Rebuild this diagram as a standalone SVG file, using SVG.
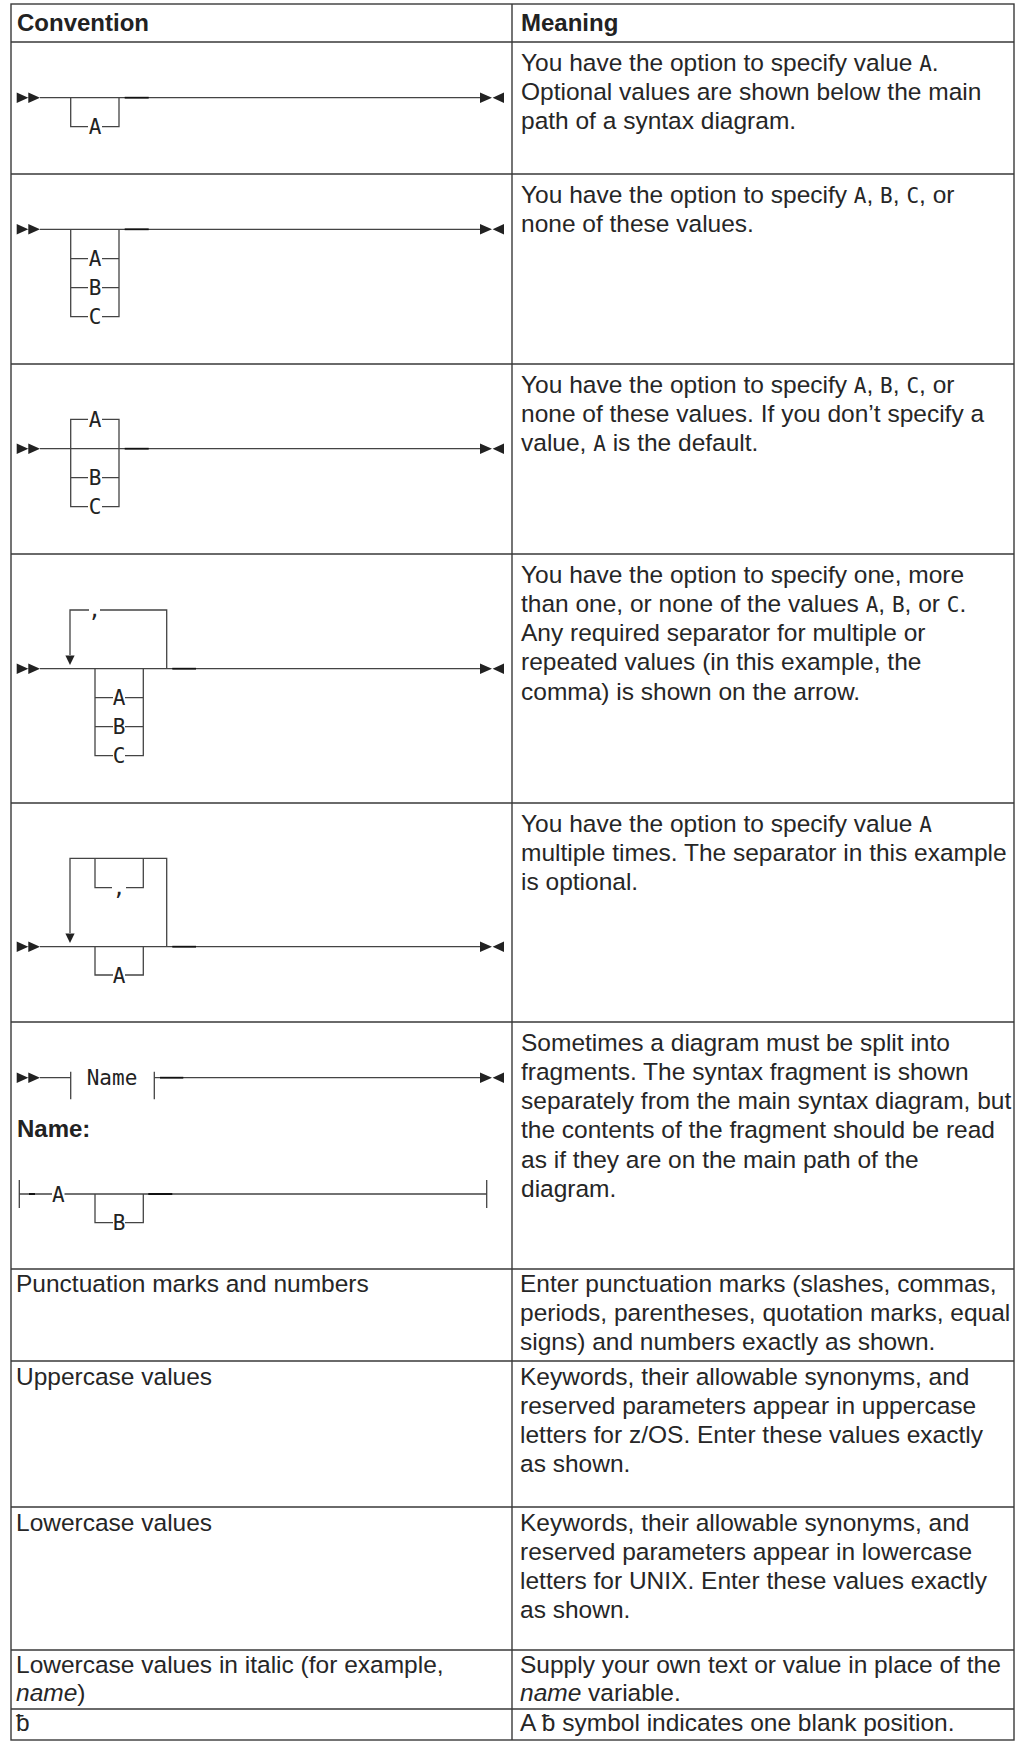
<svg xmlns="http://www.w3.org/2000/svg" xmlns:xlink="http://www.w3.org/1999/xlink" width="1021" height="1742" viewBox="0 0 1021 1742">
  <style>
    .grid{stroke:#3a3a3a;stroke-width:1.4;fill:none}
    .rail{stroke:#444;stroke-width:1.3;fill:none}
    .heavy{stroke:#111;stroke-width:1.8;fill:none}
    .tip{fill:#222}
    .hd{font-family:"Liberation Sans",Arial,sans-serif;font-weight:bold;font-size:24px;fill:#222}
    .tx{font-family:"Liberation Sans",Arial,sans-serif;font-size:24.5px;fill:#262626}
    .mono{font-family:"DejaVu Sans Mono","Liberation Mono",monospace;font-size:21px}
    .kw{font-family:"DejaVu Sans Mono","Liberation Mono",monospace;font-size:21px;fill:#222;text-anchor:middle}
    .it{font-style:italic}
  </style>
  <defs>
    <!-- double start arrow and end stop of a syntax rail -->
    <path id="start" class="tip" d="M16.7,-5.2 L28.3,0 L16.7,5.2 Z M28.3,-5.2 L40,0 L28.3,5.2 Z"/>
    <path id="end" class="tip" d="M480,-5.2 L492,0 L480,5.2 Z M504,-5.2 L492.6,0 L504,5.2 Z"/>
    <!-- downward arrowhead on a repeat loop -->
    <path id="down" class="tip" d="M-4.6,-9.5 L4.6,-9.5 L0,0 Z"/>
  </defs>

  <rect width="1021" height="1742" fill="#fff"/>

  <!-- table grid -->
  <g id="table" class="grid">
    <rect x="11" y="4" width="1003" height="1736"/>
    <path d="M512,4 V1740"/>
    <path d="M11,42 H1014 M11,174 H1014 M11,364 H1014 M11,554 H1014 M11,803 H1014 M11,1022 H1014 M11,1269 H1014 M11,1361 H1014 M11,1507 H1014 M11,1650 H1014 M11,1709 H1014"/>
  </g>

  <!-- header -->
  <g id="header">
    <text class="hd" x="17" y="31">Convention</text>
    <text class="hd" x="521" y="31">Meaning</text>
  </g>

  <!-- syntax rails -->
  <g id="connectors">
    <!-- optional A -->
    <path class="rail" d="M40,97.7 H480 M70.7,97.7 V126.7 H88 M102,126.7 H119 V97.7"/>
    <path class="heavy" d="M124.7,97.7 H148.7"/>
    <!-- optional A, B, C -->
    <path class="rail" d="M40,229.3 H480 M70.7,229.3 V316.7 H88 M102,316.7 H119 V229.3 M70.7,258.7 H88 M102,258.7 H119 M70.7,287.7 H88 M102,287.7 H119"/>
    <path class="heavy" d="M124.7,229.3 H148.7"/>
    <!-- default A -->
    <path class="rail" d="M40,448.7 H480 M88,419.3 H70.7 V506.7 H88 M102,506.7 H119 V419.3 H102 M70.7,477.7 H88 M102,477.7 H119"/>
    <path class="heavy" d="M124.7,448.7 H148.7"/>
    <!-- repeat with comma -->
    <path class="rail" d="M40,668.7 H480 M70,655 V610 H89 M100,610 H166.7 V668.7 M95,668.7 V755.7 H113 M125,755.7 H143.3 V668.7 M95,697.7 H113 M125,697.7 H143.3 M95,726.7 H113 M125,726.7 H143.3"/>
    <path class="heavy" d="M172.3,668.7 H196"/>
    <!-- repeat with optional comma -->
    <path class="rail" d="M40,946.7 H480 M70,933 V858.3 H166.7 V946.7 M95,858.3 V887.7 H112 M126,887.7 H143.3 V858.3 M95,946.7 V975 H113 M125,975 H143.3 V946.7"/>
    <path class="heavy" d="M172.3,946.7 H196"/>
    <!-- fragment reference -->
    <path class="rail" d="M40,1077.7 H70.7 M70.7,1071.7 V1099.3 M154.3,1071.7 V1099.3 M154.3,1077.7 H480"/>
    <path class="heavy" d="M160,1077.7 H183.3"/>
    <!-- fragment body -->
    <path class="rail" d="M19.3,1180 V1208 M19.3,1194 H52 M64.5,1194 H486.7 M486.7,1180 V1208 M95,1194 V1222.7 H113 M125,1222.7 H143.3 V1194"/>
    <path class="heavy" d="M29,1194 H35 M148.3,1194 H172.3"/>

    <use xlink:href="#start" href="#start" y="97.7"/>
    <use xlink:href="#end" href="#end" y="97.7"/>
    <use xlink:href="#start" href="#start" y="229.3"/>
    <use xlink:href="#end" href="#end" y="229.3"/>
    <use xlink:href="#start" href="#start" y="448.7"/>
    <use xlink:href="#end" href="#end" y="448.7"/>
    <use xlink:href="#start" href="#start" y="668.7"/>
    <use xlink:href="#end" href="#end" y="668.7"/>
    <use xlink:href="#down" href="#down" x="70" y="665"/>
    <use xlink:href="#start" href="#start" y="946.7"/>
    <use xlink:href="#end" href="#end" y="946.7"/>
    <use xlink:href="#down" href="#down" x="70" y="943"/>
    <use xlink:href="#start" href="#start" y="1077.7"/>
    <use xlink:href="#end" href="#end" y="1077.7"/>
  </g>

  <!-- rail keywords -->
  <g id="kw-row1"><text class="kw" x="95" y="134.2">A</text></g>
  <g id="kw-row2">
    <text class="kw" x="95" y="266.2">A</text>
    <text class="kw" x="95" y="295.2">B</text>
    <text class="kw" x="95" y="324.2">C</text>
  </g>
  <g id="kw-row3">
    <text class="kw" x="95" y="426.8">A</text>
    <text class="kw" x="95" y="485.2">B</text>
    <text class="kw" x="95" y="514.2">C</text>
  </g>
  <g id="kw-row4">
    <text class="kw" x="94.5" y="617">,</text>
    <text class="kw" x="119" y="705.2">A</text>
    <text class="kw" x="119" y="734.2">B</text>
    <text class="kw" x="119" y="763.2">C</text>
  </g>
  <g id="kw-row5">
    <text class="kw" x="119" y="894.7">,</text>
    <text class="kw" x="119" y="982.5">A</text>
  </g>
  <g id="kw-row6">
    <text class="kw" x="112" y="1085.2">Name</text>
    <text class="hd" x="17" y="1137">Name:</text>
    <text class="kw" x="58.3" y="1201.5">A</text>
    <text class="kw" x="119" y="1230.2">B</text>
  </g>

  <!-- meaning column -->
  <g id="m1" class="tx">
    <text x="521" y="70.5">You have the option to specify value <tspan class="mono">A</tspan>.</text>
    <text x="521" y="99.8">Optional values are shown below the main</text>
    <text x="521" y="129.1">path of a syntax diagram.</text>
  </g>
  <g id="m2" class="tx">
    <text x="521" y="202.5">You have the option to specify <tspan class="mono">A</tspan>, <tspan class="mono">B</tspan>, <tspan class="mono">C</tspan>, or</text>
    <text x="521" y="231.8">none of these values.</text>
  </g>
  <g id="m3" class="tx">
    <text x="521" y="392.5">You have the option to specify <tspan class="mono">A</tspan>, <tspan class="mono">B</tspan>, <tspan class="mono">C</tspan>, or</text>
    <text x="521" y="421.8">none of these values. If you don’t specify a</text>
    <text x="521" y="451.1">value, <tspan class="mono">A</tspan> is the default.</text>
  </g>
  <g id="m4" class="tx">
    <text x="521" y="582.5">You have the option to specify one, more</text>
    <text x="521" y="611.8">than one, or none of the values <tspan class="mono">A</tspan>, <tspan class="mono">B</tspan>, or <tspan class="mono">C</tspan>.</text>
    <text x="521" y="641.1">Any required separator for multiple or</text>
    <text x="521" y="670.4">repeated values (in this example, the</text>
    <text x="521" y="699.7">comma) is shown on the arrow.</text>
  </g>
  <g id="m5" class="tx">
    <text x="521" y="831.5">You have the option to specify value <tspan class="mono">A</tspan></text>
    <text x="521" y="860.8">multiple times. The separator in this example</text>
    <text x="521" y="890.1">is optional.</text>
  </g>
  <g id="m6" class="tx">
    <text x="521" y="1050.5">Sometimes a diagram must be split into</text>
    <text x="521" y="1079.8">fragments. The syntax fragment is shown</text>
    <text x="521" y="1109.1">separately from the main syntax diagram, but</text>
    <text x="521" y="1138.4">the contents of the fragment should be read</text>
    <text x="521" y="1167.7">as if they are on the main path of the</text>
    <text x="521" y="1197">diagram.</text>
  </g>

  <!-- plain-text conventions -->
  <g id="r7" class="tx">
    <text x="16" y="1292">Punctuation marks and numbers</text>
    <text x="520" y="1292">Enter punctuation marks (slashes, commas,</text>
    <text x="520" y="1321">periods, parentheses, quotation marks, equal</text>
    <text x="520" y="1350">signs) and numbers exactly as shown.</text>
  </g>
  <g id="r8" class="tx">
    <text x="16" y="1385">Uppercase values</text>
    <text x="520" y="1385">Keywords, their allowable synonyms, and</text>
    <text x="520" y="1414">reserved parameters appear in uppercase</text>
    <text x="520" y="1443">letters for z/OS. Enter these values exactly</text>
    <text x="520" y="1472">as shown.</text>
  </g>
  <g id="r9" class="tx">
    <text x="16" y="1531">Lowercase values</text>
    <text x="520" y="1531">Keywords, their allowable synonyms, and</text>
    <text x="520" y="1560">reserved parameters appear in lowercase</text>
    <text x="520" y="1589">letters for UNIX. Enter these values exactly</text>
    <text x="520" y="1618">as shown.</text>
  </g>
  <g id="r10" class="tx">
    <text x="16" y="1673">Lowercase values in italic (for example,</text>
    <text x="16" y="1701"><tspan class="it">name</tspan>)</text>
    <text x="520" y="1673">Supply your own text or value in place of the</text>
    <text x="520" y="1701"><tspan class="it">name</tspan> variable.</text>
  </g>
  <g id="r11" class="tx">
    <text x="16" y="1731">ƀ</text>
    <text x="520" y="1731">A ƀ symbol indicates one blank position.</text>
  </g>
</svg>
